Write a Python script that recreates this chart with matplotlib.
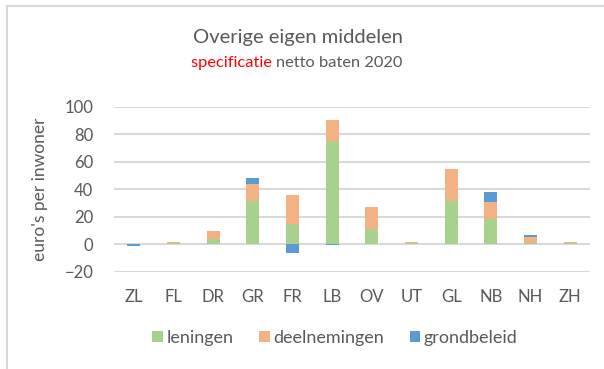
import numpy as np
import matplotlib.pyplot as plt
from matplotlib.lines import Line2D

plt.rcParams['font.family'] = ['Lato', 'DejaVu Sans']

provincies = ['ZL', 'FL', 'DR', 'GR', 'FR', 'LB', 'OV', 'UT', 'GL', 'NB', 'NH', 'ZH']
leningen = [0.0, 1.2, 4.3, 31.7, 14.9, 74.8, 11.0, 1.0, 31.2, 18.5, 1.0, 1.0]
deelnemingen = [0.3, 0.5, 5.3, 12.0, 21.3, 15.6, 16.3, 0.5, 23.5, 12.5, 4.3, 0.5]
grondbeleid = [-1.4, 0.0, 0.0, 4.6, -6.0, -0.7, 0.0, 0.0, 0.0, 7.0, 1.4, 0.0]

series = [('leningen', leningen, '#A9D18E'),
          ('deelnemingen', deelnemingen, '#F4B183'),
          ('grondbeleid', grondbeleid, '#5B9BD5')]

grey = '#595959'
W, H = 604, 369

fig = plt.figure(figsize=(W / 100, H / 100), dpi=100)
ax = fig.add_axes([114/W, 1 - 272/H, 476/W, 165.3/H])

x = np.arange(len(provincies))
pos_base = np.zeros(len(x))
neg_base = np.zeros(len(x))
for naam, vals, kleur in series:
    vals = np.array(vals)
    bottom = np.where(vals >= 0, pos_base, neg_base)
    ax.bar(x, vals, 0.32, bottom=bottom, color=kleur, label=naam, zorder=3)
    pos_base += np.clip(vals, 0, None)
    neg_base += np.clip(vals, None, 0)

ax.set_xlim(-0.5, len(x) - 0.5)
ax.set_ylim(-20, 100)
ax.set_yticks(np.arange(-20, 101, 20))
ax.yaxis.grid(True, color='#D9D9D9', linewidth=1.5, zorder=0)
for s in ax.spines.values():
    s.set_visible(False)
ax.tick_params(length=0, labelsize=12, labelcolor=grey)
ax.tick_params(axis='y', pad=15)
ax.set_xticks(x)
ax.set_xticklabels(provincies)
ax.tick_params(axis='x', pad=12)
ax.set_ylabel("euro's per inwoner", fontsize=12.5, color=grey, labelpad=12)

fig.text(298/W, 1 - 37/H, 'Overige eigen middelen', ha='center', va='center',
         fontsize=14.5, color=grey)

# ondertitel: rood woord gevolgd door grijze tekst, samen gecentreerd
t1 = fig.text(0, 1 - 63/H, 'specificatie ', ha='left', va='center',
              fontsize=11.8, color='#FF0000')
t2 = fig.text(0, 1 - 63/H, 'netto baten 2020', ha='left', va='center',
              fontsize=11.8, color=grey)
fig.canvas.draw()
r = fig.canvas.get_renderer()
w1 = t1.get_window_extent(r).width
w2 = t2.get_window_extent(r).width
x0 = 297 - (w1 + w2) / 2
t1.set_x(x0 / W)
t2.set_x((x0 + w1) / W)

fig.legend(loc='center', bbox_to_anchor=(335/W, 1 - 338/H), ncol=3, frameon=False,
           handlelength=0.6, handleheight=0.6, handletextpad=0.2, columnspacing=1.4,
           fontsize=13, labelcolor=grey)

# kader links en boven
fig.add_artist(Line2D([6.5/W, 6.5/W], [0, 1 - 5.5/H], color='#D9D9D9', linewidth=1.5))
fig.add_artist(Line2D([6.5/W, 1], [1 - 5.5/H, 1 - 5.5/H], color='#D9D9D9', linewidth=1.5))

fig.savefig('out.png', dpi=100)
